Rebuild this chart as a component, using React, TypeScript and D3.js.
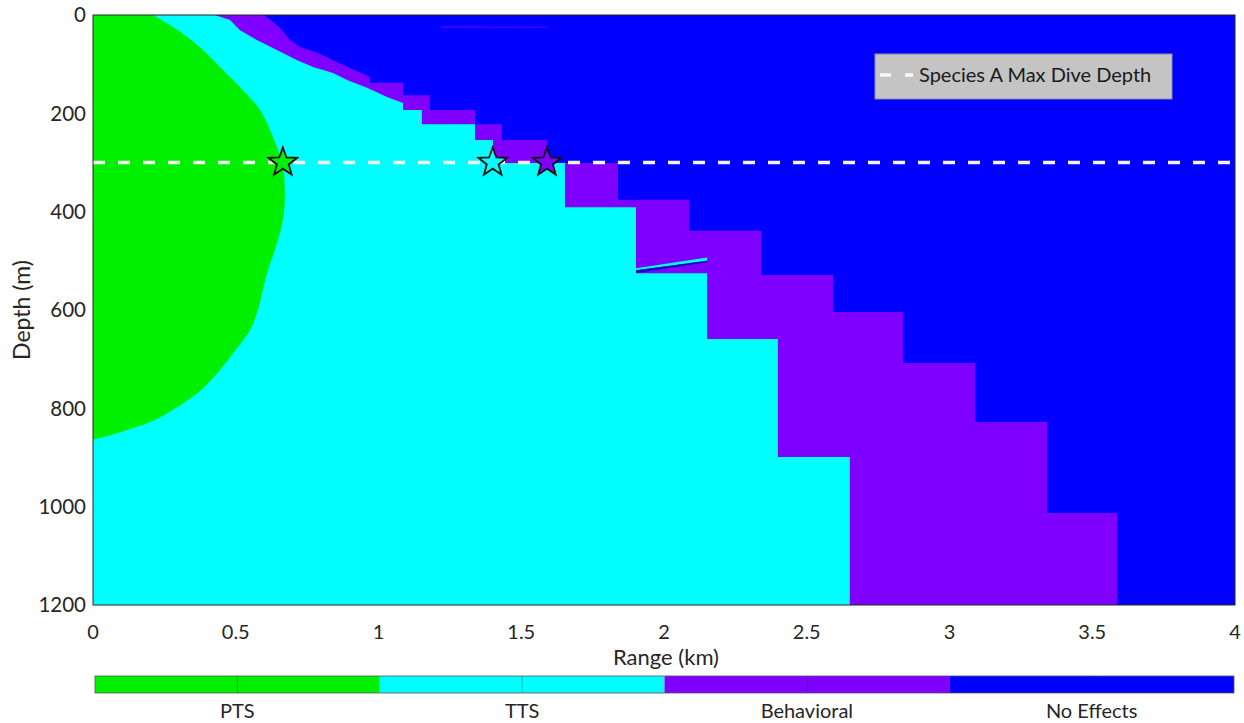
import React from 'react';
import * as d3 from 'd3';

// ---------- data ----------
const categories = ['PTS', 'TTS', 'Behavioral', 'No Effects'];
const categoryColors = ['#00f000', '#00ffff', '#8000ff', '#0000ff'];
const xTicks = [0, 0.5, 1, 1.5, 2, 2.5, 3, 3.5, 4];
const yTicks = [0, 200, 400, 600, 800, 1000, 1200];
const maxDiveDepth = 300;
const legendLabel = 'Species A Max Dive Depth';

// [depth (m), max range (km)] for each effect zone
const ptsEdge: [number, number][] = [
  [0, 0.21], [31, 0.298], [71, 0.385], [112, 0.455], [153, 0.525], [193, 0.585],
  [234, 0.62], [275, 0.648], [315, 0.669], [376, 0.672], [437, 0.658], [478, 0.637],
  [519, 0.613], [559, 0.595], [600, 0.578], [641, 0.55], [681, 0.5], [722, 0.445],
  [763, 0.378], [803, 0.28], [824, 0.215], [844, 0.12], [858, 0.04], [864, 0],
];
const ttsEdge: [number, number][] = [
  [0, 0.427], [10, 0.48], [31, 0.515], [51, 0.574], [71, 0.644], [92, 0.715],
  [106, 0.771], [118, 0.841], [132, 0.89], [148, 0.96], [167, 1.03], [179, 1.086],
  [193, 1.086], [193, 1.152], [222, 1.152], [222, 1.338], [254, 1.338], [254, 1.401],
  [301, 1.401], [301, 1.653], [391, 1.653], [391, 1.902], [525, 1.902], [525, 2.151],
  [659, 2.151], [659, 2.399], [899, 2.399], [899, 2.651], [1200, 2.651],
];
const behavioralEdge: [number, number][] = [
  [0, 0.6], [26, 0.655], [51, 0.69], [65, 0.725], [77, 0.785], [92, 0.84],
  [108, 0.9], [126, 0.97], [138, 0.97], [138, 1.086], [163, 1.086], [163, 1.18],
  [193, 1.18], [193, 1.338], [222, 1.338], [222, 1.432], [254, 1.432], [254, 1.59],
  [301, 1.59], [301, 1.839], [376, 1.839], [376, 2.088], [439, 2.088], [439, 2.34],
  [529, 2.34], [529, 2.592], [604, 2.592], [604, 2.837], [708, 2.837], [708, 3.09],
  [828, 3.09], [828, 3.342], [1013, 3.342], [1013, 3.587], [1200, 3.587],
];
// small artefacts: [range km, depth m]
const ttsWedge: [number, number][] = [[1.902, 515], [2.151, 493], [2.151, 500], [1.902, 519]];
const noEffectWedge: [number, number][] = [[1.902, 519], [2.151, 500], [2.151, 503], [1.902, 525]];
const behavioralSliver: [number, number][] = [[1.22, 23], [1.59, 24], [1.59, 26], [1.22, 26]];

// stars at max dive depth: [range km, category index]
const stars: [number, number][] = [[0.665, 0], [1.40, 1], [1.59, 2]];

// ---------- layout ----------
const W = 1244, H = 723;
const plot = { left: 93, right: 1235, top: 15, bottom: 605 };
const cbar = { left: 95, right: 1234, top: 676, bottom: 693 };
const FONT = "Lato, 'Open Sans', sans-serif";
const TXT = '#262626';

function starPath(R: number, r: number) {
  const pts: string[] = [];
  for (let i = 0; i < 10; i++) {
    const a = -Math.PI / 2 + (i * Math.PI) / 5;
    const rad = i % 2 === 0 ? R : r;
    pts.push(`${(rad * Math.cos(a)).toFixed(2)},${(rad * Math.sin(a)).toFixed(2)}`);
  }
  return 'M' + pts.join('L') + 'Z';
}

export default function App() {
  const x = d3.scaleLinear().domain([0, 4]).range([plot.left, plot.right]);
  const y = d3.scaleLinear().domain([0, 1200]).range([plot.top, plot.bottom]);

  const zoneArea = (curve: d3.CurveFactory) =>
    d3.area<[number, number]>()
      .y((d) => y(d[0]))
      .x0(x(0))
      .x1((d) => x(d[1]))
      .curve(curve);

  const poly = d3.line<[number, number]>().x((d) => x(d[0])).y((d) => y(d[1]));

  const cb = d3.scaleBand<string>().domain(categories).range([cbar.left, cbar.right]);

  const star = starPath(15, 6.2);

  return (
    <svg width={W} height={H} style={{ position: 'absolute', left: 0, top: 0, display: 'block', background: '#fff' }}>
      <defs>
        <clipPath id="plotClip">
          <rect x={plot.left} y={plot.top} width={plot.right - plot.left} height={plot.bottom - plot.top} />
        </clipPath>
      </defs>
      <g clipPath="url(#plotClip)">
        <rect x={plot.left} y={plot.top} width={plot.right - plot.left} height={plot.bottom - plot.top} fill={categoryColors[3]} />
        <path d={zoneArea(d3.curveLinear)(behavioralEdge) || ''} fill={categoryColors[2]} />
        <path d={poly(behavioralSliver) || ''} fill={categoryColors[2]} opacity={0.7} />
        <path d={zoneArea(d3.curveLinear)(ttsEdge) || ''} fill={categoryColors[1]} />
        <path d={poly(ttsWedge) || ''} fill={categoryColors[1]} />
        <path d={poly(noEffectWedge) || ''} fill="#1010c0" />
        <path d={zoneArea(d3.curveMonotoneY)(ptsEdge) || ''} fill={categoryColors[0]} />
        <line x1={plot.left} x2={plot.right} y1={y(maxDiveDepth)} y2={y(maxDiveDepth)}
          stroke="#f4f0f4" strokeWidth={3.5} strokeDasharray="12 13" />
        {stars.map(([r, c], i) => (
          <path key={i} d={star} transform={`translate(${x(r)},${y(maxDiveDepth)})`}
            fill={categoryColors[c]} stroke="#111" strokeWidth={1.8} strokeLinejoin="miter" />
        ))}
      </g>
      <rect x={plot.left} y={plot.top} width={plot.right - plot.left} height={plot.bottom - plot.top}
        fill="none" stroke="#262626" strokeWidth={1} />

      {/* legend */}
      <g>
        <rect x={875} y={54} width={297} height={45} fill="#c4c4c4" stroke="#8c8ca8" strokeWidth={1} />
        <line x1={880} x2={913} y1={75} y2={75} stroke="#f8f8f8" strokeWidth={3.5} strokeDasharray="11 14" />
        <text x={919} y={82} fontFamily={FONT} fontSize={20} fill="#1a1a1a">{legendLabel}</text>
      </g>

      {/* y axis */}
      {yTicks.map((t) => (
        <text key={t} x={plot.left - 7} y={y(t)} dy="0.35em" textAnchor="end"
          fontFamily={FONT} fontSize={20.5} fill={TXT}>{t}</text>
      ))}
      <text transform={`translate(${22},${(plot.top + plot.bottom) / 2}) rotate(-90)`} textAnchor="middle"
        dy="0.35em" fontFamily={FONT} fontSize={23} fill={TXT}>Depth (m)</text>

      {/* x axis */}
      {xTicks.map((t) => (
        <text key={t} x={x(t)} y={632} dy="0.35em" textAnchor="middle"
          fontFamily={FONT} fontSize={20} fill={TXT}>{t}</text>
      ))}
      <text x={(plot.left + plot.right) / 2 + 2} y={657} dy="0.35em" textAnchor="middle"
        fontFamily={FONT} fontSize={22} fill={TXT}>Range (km)</text>

      {/* colorbar */}
      {categories.map((c, i) => (
        <g key={c}>
          <rect x={cb(c)!} y={cbar.top} width={cb.bandwidth()} height={cbar.bottom - cbar.top} fill={categoryColors[i]} />
          <line x1={cb(c)! + cb.bandwidth() / 2} x2={cb(c)! + cb.bandwidth() / 2} y1={cbar.top} y2={cbar.bottom}
            stroke="#000" strokeOpacity={0.25} strokeWidth={1} />
          <text x={cb(c)! + cb.bandwidth() / 2} y={711} dy="0.35em" textAnchor="middle"
            fontFamily={FONT} fontSize={20} fill={TXT}>{c}</text>
        </g>
      ))}
      <rect x={cbar.left} y={cbar.top} width={cbar.right - cbar.left} height={cbar.bottom - cbar.top}
        fill="none" stroke="#555" strokeWidth={0.8} />
    </svg>
  );
}
